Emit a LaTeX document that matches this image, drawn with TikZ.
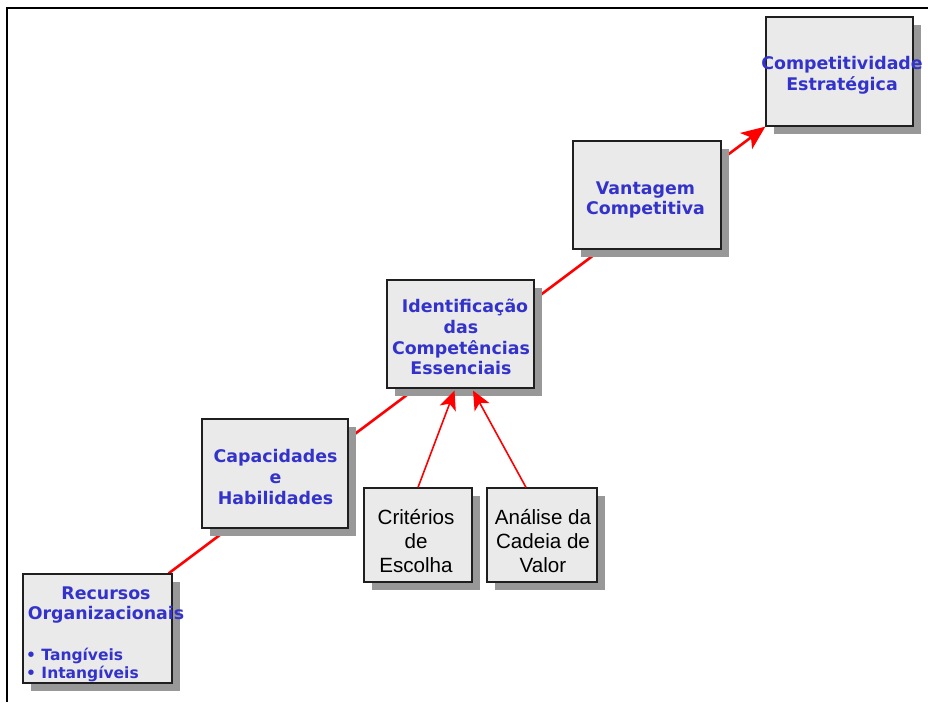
\documentclass[tikz,border=0pt]{standalone}
\usepackage{fontspec}
\setmainfont{Liberation Sans}
\newfontfamily\vfont{DejaVu Sans}
\usetikzlibrary{shadows,backgrounds,calc,arrows.meta}
\definecolor{boxfill}{HTML}{EAEAEA}
\definecolor{shadowgray}{HTML}{989898}
\definecolor{txtblue}{HTML}{3333CC}
\definecolor{edgered}{HTML}{FF0000}
\tikzset{
  box/.style={draw=black!88, line width=1.2pt, fill=boxfill, inner sep=0pt,
    drop shadow={fill=shadowgray, opacity=1, shadow xshift=8pt, shadow yshift=-8pt}},
  bluetxt/.style={text=txtblue, align=center, inner sep=0pt,
    font=\vfont\bfseries\fontsize{17.4}{20.8}\selectfont},
  smalltxt/.style={text=txtblue, align=left, inner sep=0pt,
    font=\vfont\bfseries\fontsize{15.5}{18}\selectfont},
  blacktxt/.style={text=black, align=center, inner sep=0pt,
    font=\fontsize{20.6}{24}\selectfont},
  mainlink/.style={draw=edgered, line width=2.6pt, -{Stealth[length=24pt,width=20pt,inset=6pt]}},
  sublink/.style={draw=edgered, line width=1.6pt, -{Stealth[length=19pt,width=17pt,inset=5pt]}}
}
\begin{document}
\begin{tikzpicture}[x=1pt,y=-1pt]
\useasboundingbox (0,0) rectangle (928,702);
\draw[line width=2.4pt] (7,702) -- (7,8) -- (928,8);
% boxes
\node[box, minimum width=147pt, minimum height=109pt] (comp) at (839.5,71.5) {};
\node[box, minimum width=148pt, minimum height=108pt] (vant) at (647,195) {};
\node[box, minimum width=147pt, minimum height=108pt] (ident) at (460.5,334) {};
\node[box, minimum width=146pt, minimum height=109pt] (capa) at (275,473.5) {};
\node[box, minimum width=149pt, minimum height=109pt] (rec) at (97.5,628.5) {};
\node[box, minimum width=108pt, minimum height=94pt] (crit) at (418,535) {};
\node[box, minimum width=110pt, minimum height=94pt] (anal) at (542,535) {};
% texts
\node[bluetxt] (compt) at (842,75) {Competitividade\\Estratégica};
\node[bluetxt] (vantt) at (645.5,200) {Vantagem\\Competitiva};
\node[bluetxt] (identt) at (461,337) {\hspace*{8pt}Identificação\\das\\Competências\\Essenciais};
\node[bluetxt] (capat) at (275.5,477) {Capacidades\\e\\Habilidades};
\node[bluetxt] (rect) at (106,605) {Recursos\\Organizacionais};
\node[smalltxt, anchor=west] (recb) at (26,665) {• Tangíveis\\• Intangíveis};
\node[blacktxt] (critt) at (416,541) {Critérios\\de\\Escolha};
\node[blacktxt] (analt) at (543,541) {Análise da\\Cadeia de\\Valor};
% connectors
\begin{scope}[on background layer]
\draw[mainlink] ($(rec.north east)+(-4,0)$) -- (comp.south west);
\end{scope}
\draw[sublink] (crit.north) -- ($(ident.south)+(-6,2)$);
\draw[sublink] ($(anal.north)+(-16,0)$) -- ($(ident.south)+(12.5,2)$);
\end{tikzpicture}
\end{document}
